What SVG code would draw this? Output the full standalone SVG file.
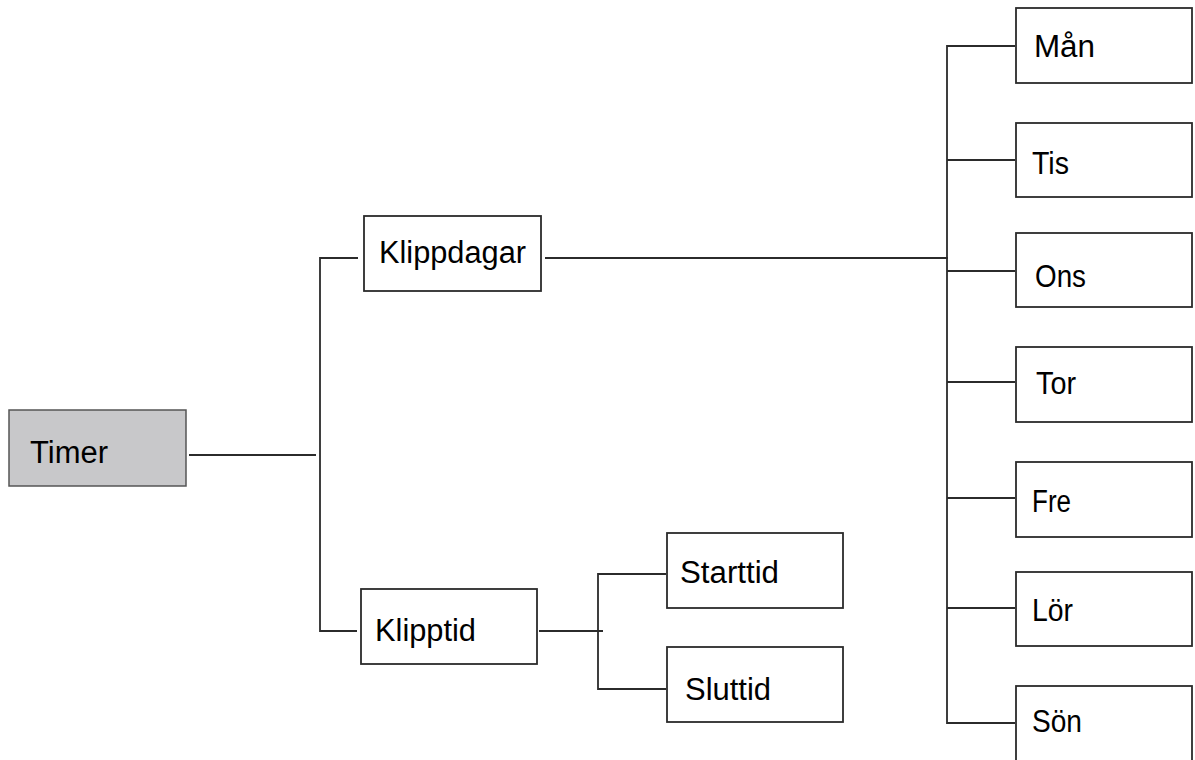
<svg xmlns="http://www.w3.org/2000/svg" width="1195" height="760" viewBox="0 0 1195 760">
<style>
.box{fill:#ffffff;stroke:#2b2b2b;stroke-width:1.8}
.root{fill:#c8c8ca;stroke:#555555;stroke-width:1.5}
.lbl{font-family:"Liberation Sans","Open Sans",sans-serif;font-size:31px;fill:#000000}
.con{fill:none;stroke:#2b2b2b;stroke-width:1.8}
</style>
<rect width="1195" height="760" fill="#ffffff"/>
<g id="connectors">
<path class="con" d="M189,455 H316"/>
<path class="con" d="M358,258 H320 V631 H357"/>
<path class="con" d="M545,258 H948"/>
<path class="con" d="M1015,46 H947 V723 H1015"/>
<path class="con" d="M947,160 H1015 M947,271 H1015 M947,382 H1015 M947,498 H1015 M947,608 H1015"/>
<path class="con" d="M539,631 H603"/>
<path class="con" d="M666,574 H598 V689 H666"/>
</g>
<g id="timer"><rect class="root" x="9" y="410" width="177" height="76"/><text class="lbl" x="30" y="463" textLength="78" lengthAdjust="spacingAndGlyphs">Timer</text></g>
<g id="klippdagar"><rect class="box" x="364" y="216" width="177" height="75"/><text class="lbl" x="379" y="263" textLength="147" lengthAdjust="spacingAndGlyphs">Klippdagar</text></g>
<g id="klipptid"><rect class="box" x="361" y="589" width="176" height="75"/><text class="lbl" x="375" y="641" textLength="101" lengthAdjust="spacingAndGlyphs">Klipptid</text></g>
<g id="starttid"><rect class="box" x="667" y="533" width="176" height="75"/><text class="lbl" x="680" y="583" textLength="99" lengthAdjust="spacingAndGlyphs">Starttid</text></g>
<g id="sluttid"><rect class="box" x="667" y="647" width="176" height="75"/><text class="lbl" x="685" y="700" textLength="86" lengthAdjust="spacingAndGlyphs">Sluttid</text></g>
<g id="man"><rect class="box" x="1016" y="8" width="176" height="75"/><text class="lbl" x="1034" y="57" textLength="61" lengthAdjust="spacingAndGlyphs">Mån</text></g>
<g id="tis"><rect class="box" x="1016" y="123" width="176" height="74"/><text class="lbl" x="1032" y="174" textLength="37" lengthAdjust="spacingAndGlyphs">Tis</text></g>
<g id="ons"><rect class="box" x="1016" y="233" width="176" height="74"/><text class="lbl" x="1035" y="287" textLength="51" lengthAdjust="spacingAndGlyphs">Ons</text></g>
<g id="tor"><rect class="box" x="1016" y="347" width="176" height="75"/><text class="lbl" x="1036" y="394" textLength="40" lengthAdjust="spacingAndGlyphs">Tor</text></g>
<g id="fre"><rect class="box" x="1016" y="462" width="176" height="75"/><text class="lbl" x="1032" y="512" textLength="39" lengthAdjust="spacingAndGlyphs">Fre</text></g>
<g id="lor"><rect class="box" x="1016" y="572" width="176" height="74"/><text class="lbl" x="1032" y="621" textLength="41" lengthAdjust="spacingAndGlyphs">Lör</text></g>
<g id="son"><rect class="box" x="1016" y="686" width="176" height="76"/><text class="lbl" x="1032" y="732" textLength="50" lengthAdjust="spacingAndGlyphs">Sön</text></g>
</svg>
